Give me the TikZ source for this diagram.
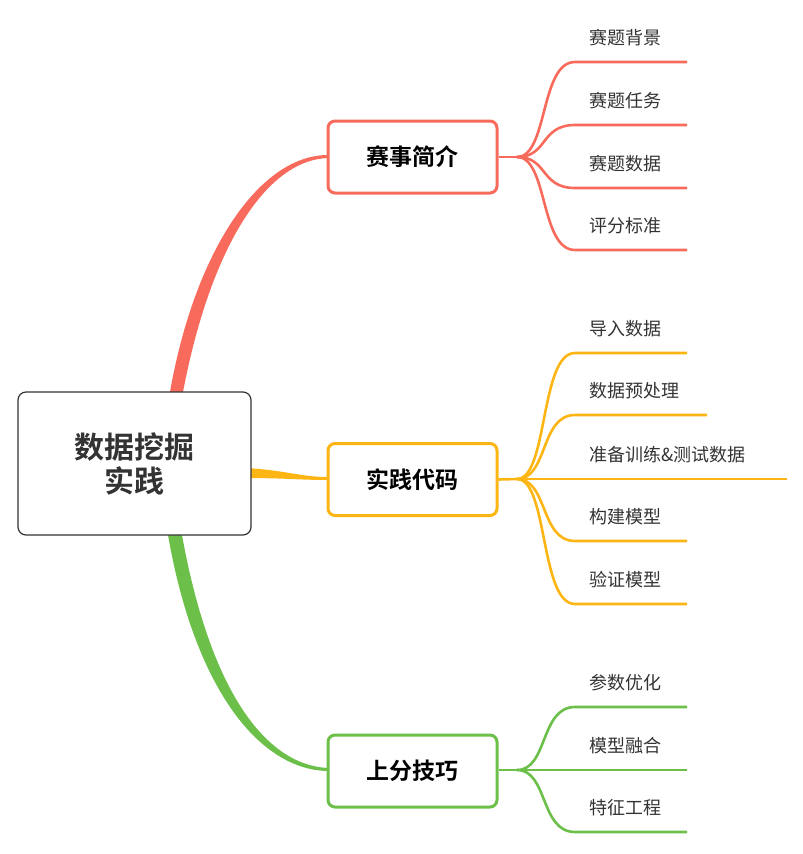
\documentclass[tikz,border=0pt]{standalone}
\usepackage{fontspec}
\setmainfont{Noto Sans CJK SC}
\newfontfamily\cjkb{Noto Sans CJK SC Bold}
\definecolor{cr}{HTML}{F86B5C}
\definecolor{co}{HTML}{FDB513}
\definecolor{cg}{HTML}{6CC04A}
\definecolor{tx}{HTML}{333333}
\begin{document}
\begin{tikzpicture}[x=1pt,y=-1pt,
  rootbox/.style={draw=tx,line width=1.2pt,rounded corners=8pt,fill=white,minimum width=233pt,minimum height=143pt,align=center,font=\cjkb\fontsize{30}{40}\selectfont,text=tx},
  topic/.style={draw=#1,line width=3pt,rounded corners=7pt,fill=white,minimum width=169pt,minimum height=72pt,font=\cjkb\fontsize{23}{28}\selectfont,text=black},
  leaf/.style={anchor=west,font=\fontsize{18}{22}\selectfont,text=tx,inner sep=0pt},
  lk/.style={line width=2.6pt,draw=#1}]
\useasboundingbox (0,0) rectangle (803,854);
% tapered main branches
\fill[cr] (170,392) .. controls (195,250) and (260,155) .. (328,155) -- (328,158) .. controls (265,160) and (210,250) .. (183,392) -- cycle;
\fill[co] (245,468) .. controls (285,470) and (300,477) .. (328,477) -- (328,480) .. controls (300,480) and (285,478) .. (245,478) -- cycle;
\fill[cg] (168,535) .. controls (195,690) and (260,770) .. (328,771) -- (328,768) .. controls (265,765) and (210,690) .. (182,535) -- cycle;
\node[rootbox] (root) at (134.5,463.5) {数据挖掘\\[-6pt]实践};
\node[topic=cr] (t1) at (412.5,157) {赛事简介};
\node[topic=co] (t2) at (412.5,479.5) {实践代码};
\node[topic=cg] (t3) at (412.5,771) {上分技巧};
% junctions
\coordinate (j1) at (517,157);
\coordinate (j2) at (517,479);
\coordinate (j3) at (517,770);
\draw[lk=cr] (t1.east) -- (j1);
\draw[lk=co] (t2.east) -- (j2);
\draw[lk=cg] (t3.east |- j3) -- (j3);
% red leaves
\foreach \y/\e/\t/\n in {62/687/赛题背景/a,125/687/赛题任务/b,188/687/赛题数据/c,250/687/评分标准/d}{
  \coordinate (r\n s) at (575,\y); \coordinate (r\n e) at (\e,\y);
  \draw[lk=cr] (j1) .. controls (548,157) and (540,\y) .. (r\n s) -- (r\n e);
  \node[leaf] (rl\n) at (589,\y-24) {\t};}
% orange leaves
\foreach \y/\e/\t/\n in {353/687/导入数据/a,415/707/数据预处理/b,479/787/准备训练\&测试数据/c,541/687/构建模型/d,604/687/验证模型/e}{
  \coordinate (o\n s) at (575,\y); \coordinate (o\n e) at (\e,\y);
  \draw[lk=co] (j2) .. controls (548,479) and (540,\y) .. (o\n s) -- (o\n e);
  \node[leaf] (ol\n) at (589,\y-24) {\t};}
% green leaves
\foreach \y/\e/\t/\n in {707/687/参数优化/a,770/687/模型融合/b,832/687/特征工程/c}{
  \coordinate (g\n s) at (575,\y); \coordinate (g\n e) at (\e,\y);
  \draw[lk=cg] (j3) .. controls (548,770) and (540,\y) .. (g\n s) -- (g\n e);
  \node[leaf] (gl\n) at (589,\y-24) {\t};}
\end{tikzpicture}
\end{document}
